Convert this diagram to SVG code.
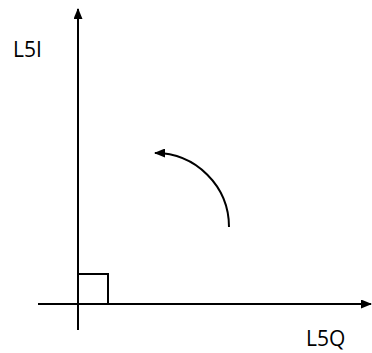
<svg xmlns="http://www.w3.org/2000/svg" width="372" height="353" viewBox="0 0 372 353">
<defs>
<marker id="ah" markerWidth="11" markerHeight="9" refX="10" refY="4.5" orient="auto" markerUnits="userSpaceOnUse">
<path d="M0,0 L11,4.5 L0,9 Z" fill="#000"/>
</marker>
</defs>
<style>
.ln{stroke:#000;stroke-width:2;fill:none}
.t{font-family:"Open Sans","DejaVu Sans",sans-serif;font-size:21px;fill:#000}
</style>
<rect width="372" height="353" fill="#fff"/>
<g id="connectors">
<line class="ln" x1="78" y1="330" x2="78" y2="9" marker-end="url(#ah)"/>
<line class="ln" x1="38" y1="304" x2="371" y2="304" marker-end="url(#ah)"/>
<path class="ln" d="M229,227 A74,74 0 0 0 155,153" marker-end="url(#ah)"/>
</g>
<g id="square">
<rect class="ln" x="78" y="274" width="30" height="30"/>
</g>
<g id="label-L5I"><text class="t" x="13" y="57">L5I</text></g>
<g id="label-L5Q"><text class="t" x="306" y="346">L5Q</text></g>
</svg>
